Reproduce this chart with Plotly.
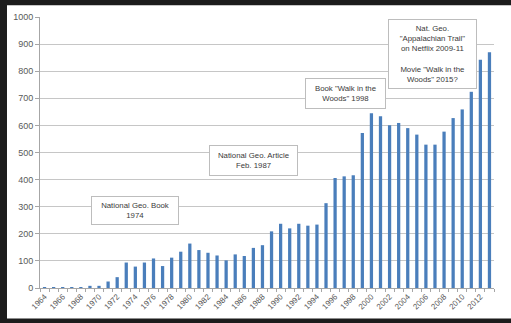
import plotly.graph_objects as go

# Yearly counts, 1964-2013
years = list(range(1964, 2014))
counts = [2, 2, 2, 2, 3, 8, 8, 24, 40, 94,
          79, 94, 109, 81, 112, 134, 164, 140, 130, 120,
          102, 124, 118, 148, 158, 209, 237, 220, 237, 230,
          234, 313, 406, 412, 416, 572, 645, 634, 601, 609,
          590, 566, 529, 529, 577, 627, 659, 724, 842, 870]

year_labels = [str(y) for y in range(1964, 2013, 2)]
y_ticks = list(range(0, 1001, 100))

# Event notes: (x year, y value, text, box width, box height)
notes = [
    (1974.0, 285, "National Geo. Book<br>1974", 86, 27),
    (1987.0, 471, "National Geo. Article<br>Feb. 1987", 87, 29),
    (1997.1, 717, "Book \"Walk in the<br>Woods\" 1998", 79, 29),
    (2006.7, 863, "Nat. Geo.<br>\"Appalachian Trail\"<br>on Netflix 2009-11<br> <br>"
                  "Movie \"Walk in the<br>Woods\" 2015?", 87, 68),
]

FONT = "Liberation Sans"
GRID = "#c6c6c6"
AXIS = "#a6a6a6"
FRAME = "#1c1c1c"

fig = go.Figure()
fig.add_trace(go.Bar(x=years, y=counts, width=0.36,
                     marker=dict(color="#4a7ebb", line=dict(width=0))))

for x, y, text, w, h in notes:
    fig.add_annotation(x=x, y=y, xref="x", yref="y", text=text, showarrow=False,
                       width=w, height=h, align="center", valign="middle",
                       bgcolor="white", bordercolor="#bdbdbd", borderwidth=1, borderpad=0,
                       font=dict(family=FONT, size=7.8, color="#3a3a3a"))

# thin dark frame on the left, top and bottom edges of the sheet
frame_strips = [
    dict(x0=-0.1, x1=-0.0727, y0=-0.2, y1=1.1),
    dict(x0=-0.1, x1=1.1, y0=1.0438, y1=1.1),
    dict(x0=-0.1, x1=1.1, y0=-0.16, y1=-0.113),
]
shapes = [dict(type="rect", xref="paper", yref="paper", layer="above",
               fillcolor=FRAME, line=dict(width=0, color=FRAME), **s) for s in frame_strips]

fig.update_layout(
    width=511, height=323,
    margin=dict(l=40, r=17, t=15, b=34),
    paper_bgcolor="#ffffff", plot_bgcolor="#ffffff",
    showlegend=False, bargap=0.6, shapes=shapes,
    font=dict(family=FONT, color="#595959"),
)
fig.update_xaxes(range=[1963.5, 2013.5], tickmode="array", tickvals=list(range(1964, 2013, 2)),
                 ticktext=year_labels, tickangle=-45, tickfont=dict(size=8, color="#595959"),
                 showgrid=False, showline=True, linecolor=AXIS, linewidth=1, ticks="",
                 minor=dict(tickmode="array", tickvals=[y + 0.5 for y in range(1963, 2014)],
                            ticks="outside", ticklen=3, tickcolor=AXIS, showgrid=False),
                 zeroline=False)
fig.update_yaxes(range=[0, 1000], tickmode="array", tickvals=y_ticks,
                 tickfont=dict(size=9, color="#595959"),
                 showgrid=True, gridcolor=GRID, gridwidth=1.3,
                 showline=True, linecolor=AXIS, linewidth=1,
                 ticks="outside", ticklen=4, tickcolor=AXIS, zeroline=False)

fig.write_html("out.html")
